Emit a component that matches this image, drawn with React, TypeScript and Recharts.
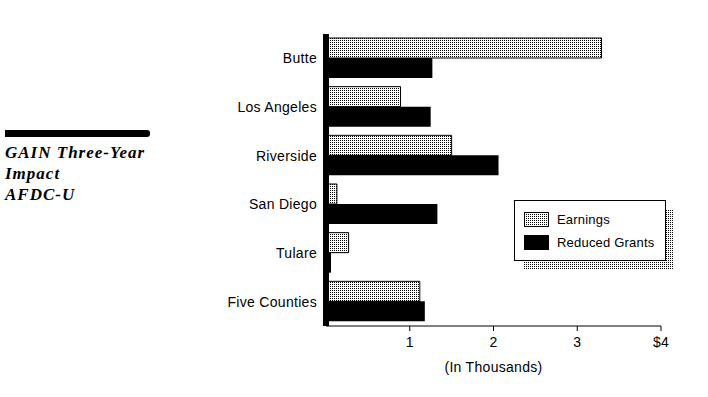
import React from 'react'
import { Bar, BarChart, Legend, XAxis, YAxis } from 'recharts'

const counties = ['Butte', 'Los Angeles', 'Riverside', 'San Diego', 'Tulare', 'Five Counties']
const earnings = [3.29, 0.89, 1.5, 0.13, 0.27, 1.12]
const reducedGrants = [1.27, 1.25, 2.06, 1.33, 0.06, 1.18]
const xTicks = [1, 2, 3, 4]
const titleLines = ['GAIN Three-Year', 'Impact', 'AFDC-U']

const data = counties.map((county, i) => ({
    county,
    earnings: earnings[i],
    reducedGrants: reducedGrants[i],
}))

const sans = '"Liberation Sans", Arial, sans-serif'

const DotPattern = ({ id }: { id: string }) => (
    <pattern id={id} width={2} height={2} patternUnits="userSpaceOnUse">
        <rect width={2} height={2} fill="#fff" />
        <rect width={1} height={1} fill="#000" />
    </pattern>
)

const LegendBox = ({ payload }: any) => (
    <svg width={162} height={72} style={{ display: 'block' }}>
        <defs>
            <DotPattern id="legendDots" />
        </defs>
        <rect x={9} y={9} width={151} height={60} fill="url(#legendDots)" />
        <rect x={0.5} y={0.5} width={151} height={60} fill="#fff" stroke="#000" />
        {(payload || []).map((item: any, i: number) => (
            <g key={item.value} transform={`translate(10, ${12 + i * 23})`}>
                <rect
                    x={0.5}
                    y={0.5}
                    width={24}
                    height={14}
                    fill={i === 0 ? 'url(#legendDots)' : '#000'}
                    stroke="#000"
                />
                <text x={33} y={12} fontFamily={sans} fontSize={13} letterSpacing={0.2} fill="#000">
                    {item.value}
                </text>
            </g>
        ))}
    </svg>
)

const App = () => {
    return (
        <div style={{ position: 'absolute', left: 0, top: 0, width: 708, height: 397, background: '#fff' }}>
            <div style={{ position: 'absolute', left: 5, top: 130, width: 145, height: 7, background: '#000', borderRadius: '0 3px 3px 0' }} />
            <div
                style={{
                    position: 'absolute',
                    left: 5,
                    top: 142,
                    fontFamily: '"Liberation Serif", "Times New Roman", serif',
                    fontWeight: 'bold',
                    fontStyle: 'italic',
                    fontSize: 17,
                    letterSpacing: 1,
                    lineHeight: '21px',
                }}
            >
                {titleLines.map(line => (
                    <div key={line}>{line}</div>
                ))}
            </div>
            <BarChart
                width={708}
                height={397}
                data={data}
                layout="vertical"
                margin={{ top: 34, right: 47, bottom: 12, left: 226 }}
                barSize={20}
                barGap={0}
                style={{ position: 'absolute', left: 0, top: 0 }}
            >
                <defs>
                    <DotPattern id="barDots" />
                </defs>
                <XAxis
                    type="number"
                    domain={[0, 4]}
                    ticks={xTicks}
                    tickFormatter={v => (v === 4 ? '$4' : String(v))}
                    axisLine={{ stroke: '#000' }}
                    tickLine={{ stroke: '#000' }}
                    tickSize={5}
                    tickMargin={6}
                    height={59}
                    tick={{ fill: '#000', fontFamily: sans, fontSize: 14, letterSpacing: 0.3 }}
                    label={{
                        value: '(In Thousands)',
                        position: 'insideBottom',
                        offset: 13,
                        fill: '#000',
                        fontFamily: sans,
                        fontSize: 14,
                        letterSpacing: 0.3,
                    }}
                />
                <YAxis
                    type="category"
                    dataKey="county"
                    width={100}
                    axisLine={{ stroke: '#000', strokeWidth: 6 }}
                    tickLine={false}
                    tickSize={6}
                    tickMargin={3}
                    tick={{ fill: '#000', fontFamily: sans, fontSize: 14, letterSpacing: 0.3 }}
                />
                <Bar dataKey="earnings" name="Earnings" fill="url(#barDots)" stroke="#000" strokeWidth={1} isAnimationActive={false} />
                <Bar dataKey="reducedGrants" name="Reduced Grants" fill="#000" isAnimationActive={false} />
                <Legend
                    layout="vertical"
                    align="center"
                    verticalAlign="middle"
                    content={<LegendBox />}
                    wrapperStyle={{ position: 'absolute', left: 514, top: 200, width: 162, height: 72 }}
                />
            </BarChart>
        </div>
    )
}

export default App
